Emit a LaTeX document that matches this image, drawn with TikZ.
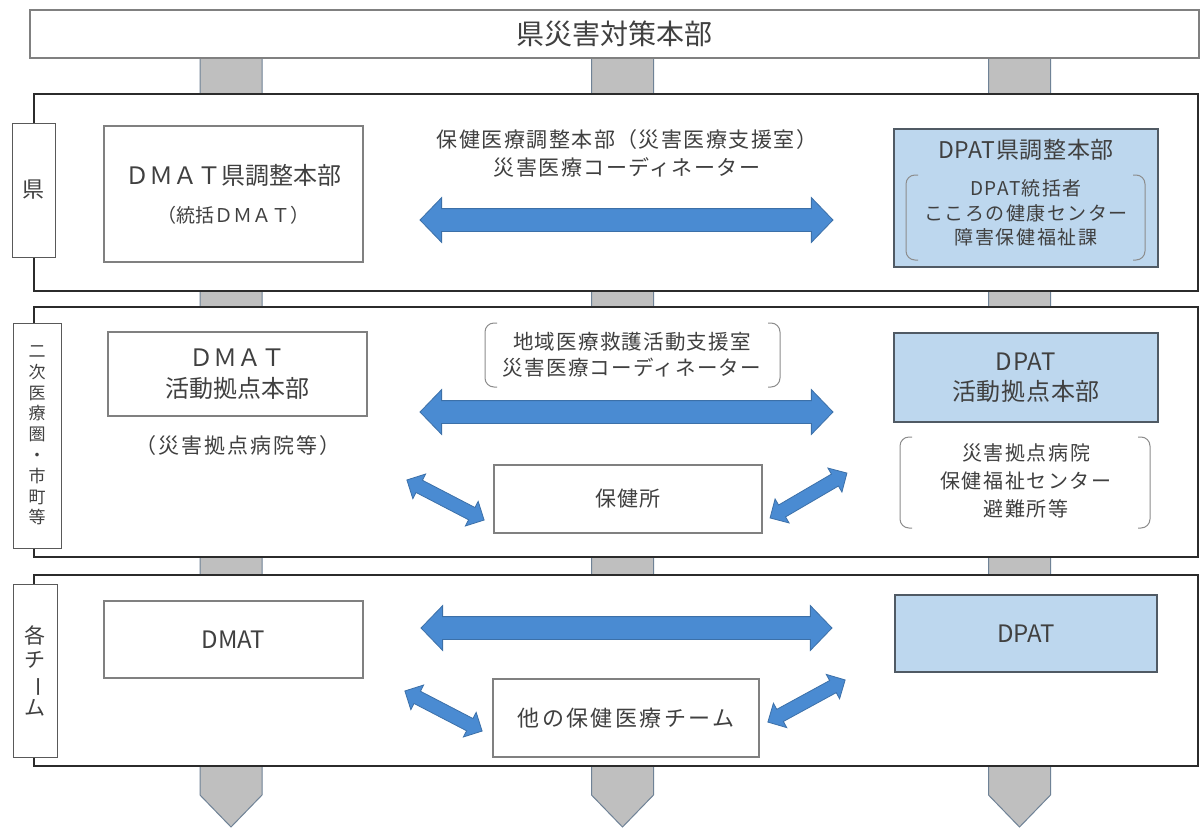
\documentclass[tikz,border=0pt]{standalone}
\usepackage{fontspec}
\setmainfont{Noto Sans CJK JP}
\usetikzlibrary{shapes.arrows,calc}
\definecolor{txt}{HTML}{404040}
\definecolor{boxline}{HTML}{808080}
\definecolor{panelline}{HTML}{2B2B2B}
\definecolor{bluebox}{HTML}{BDD7EE}
\definecolor{blueline}{HTML}{505A64}
\definecolor{arrfill}{HTML}{4A8BD2}
\definecolor{arrline}{HTML}{3C70A8}
\definecolor{barfill}{HTML}{BFBFBF}
\definecolor{barline}{HTML}{6F8296}
\definecolor{brk}{HTML}{8C8C8C}
\newcommand\fs[2]{\fontsize{#1}{#2}\selectfont}
\newcommand\fsl[3]{\fontsize{#1}{#2}\selectfont\addfontfeatures{LetterSpace=#3}}
\begin{document}
\begin{tikzpicture}[x=1pt,y=-1pt,
 every node/.style={text=txt, inner sep=0pt, outer sep=0pt},
 panel/.style={draw=panelline, line width=2pt, fill=white, rectangle},
 tab/.style={draw=black!65, line width=1pt, fill=white},
 wbox/.style={draw=boxline, line width=1.3pt, fill=white},
 bbox/.style={draw=blueline, line width=1.3pt, fill=bluebox},
 bigarrow/.style={double arrow, fill=arrfill, draw=arrline, line width=0.8pt,
   inner xsep=0pt, inner ysep=11pt,
   double arrow head extend=11pt, double arrow head indent=0pt,
   minimum width=44pt, double arrow tip angle=92},
 smallarrow/.style={double arrow, fill=arrfill, draw=arrline, line width=0.8pt,
   inner xsep=0pt, inner ysep=6.5pt,
   double arrow head extend=7pt, double arrow head indent=0pt,
   minimum width=27pt, double arrow tip angle=90},
 bar/.style={fill=barfill, draw=barline, line width=1pt},
 brack/.style={draw=brk, line width=1pt, rounded corners=9pt},
]
\useasboundingbox (0,0) rectangle (1203,828);
\fill[white] (0,0) rectangle (1203,828);

% vertical connector bars
\foreach \cx in {231,622.5,1019.5}
  \draw[bar] (\cx-31,58) -- (\cx+31,58) -- (\cx+31,795) -- (\cx,827) -- (\cx-31,795) -- cycle;

% top box
\node[draw=boxline, line width=1.3pt, fill=white, minimum width=1169pt, minimum height=48pt, font=\fs{28}{30}] (top) at (614.5,34) {県災害対策本部};

% panels
\node[panel, minimum width=1164pt, minimum height=197pt] (p1) at (616,192.5) {};
\node[panel, minimum width=1164pt, minimum height=250pt] (p2) at (616,432) {};
\node[panel, minimum width=1164pt, minimum height=191pt] (p3) at (616,670.5) {};

% tabs
\node[tab, minimum width=43pt, minimum height=134pt, font=\fs{22}{24}] (t1) at (33.5,190) {県};
\node[tab, minimum width=48pt, minimum height=225pt, align=center, font=\fs{17}{20.8}] (t2) at (37,435.5) {二\\次\\医\\療\\圏\\・\\市\\町\\等};
\node[tab, minimum width=44pt, minimum height=173pt, align=center, font=\fs{21}{24}] (t3) at (35,670.5) {各\\チ\\\rotatebox[origin=c]{-90}{ー}\\ム};

% ---- panel 1
\node[wbox, minimum width=259pt, minimum height=136pt, align=center, font=\fs{24}{38}] (dmat1) at (233.5,194) {ＤＭＡＴ県調整本部\\{\fs{19}{38}（統括ＤＭＡＴ）}};
\node[bbox, minimum width=264pt, minimum height=138pt] (dpat1) at (1026,198) {};
\node[font=\fsl{23}{25}{3}] (dpat1t) at (1026,150) {DPAT県調整本部};
\node[align=center, font=\fsl{19}{24.5}{8}] (dpat1s) at (1026,213) {DPAT統括者\\こころの健康センター\\障害保健福祉課};
\draw[brack] (918,175) -- (906,175) -- (906,260) -- (918,260);
\draw[brack] (1133,175) -- (1145,175) -- (1145,260) -- (1133,260);
\node[align=center, font=\fsl{21}{28}{7}] (mid1) at (627,153) {保健医療調整本部（災害医療支援室）\\災害医療コーディネーター};
\coordinate (a1l) at (420,220);
\coordinate (a1r) at (833,220);
\path (a1l) -- node[bigarrow, minimum height=413pt, sloped] (arr1) {} (a1r);

% ---- panel 2
\node[wbox, minimum width=259pt, minimum height=84pt, align=center, font=\fs{24}{31}] (dmat2) at (237.5,374) {ＤＭＡＴ\\活動拠点本部};
\node[font=\fsl{21}{23}{9}] (dmat2s) at (238,446) {（災害拠点病院等）};
\node[align=center, font=\fsl{20.5}{26}{6}] (mid2) at (632,355) {地域医療救護活動支援室\\災害医療コーディネーター};
\draw[brack] (497,323) -- (485,323) -- (485,387) -- (497,387);
\draw[brack] (768,323) -- (780,323) -- (780,387) -- (768,387);
\coordinate (a2l) at (420,412);
\coordinate (a2r) at (833,412);
\path (a2l) -- node[bigarrow, minimum height=413pt, sloped] (arr2) {} (a2r);
\node[wbox, minimum width=268pt, minimum height=68pt, font=\fsl{21}{23}{6}] (hok) at (628,499) {保健所};
\coordinate (d2a) at (407,480);
\coordinate (d2b) at (484,520);
\path (d2a) -- node[smallarrow, minimum height=87pt, sloped] (arr2l) {} (d2b);
\coordinate (d2c) at (770,518);
\coordinate (d2d) at (847,473);
\path (d2c) -- node[smallarrow, minimum height=89pt, sloped] (arr2r) {} (d2d);
\node[bbox, minimum width=264pt, minimum height=89pt, align=center, font=\fsl{24}{30}{3}] (dpat2) at (1026,377.5) {DPAT\\活動拠点本部};
\node[align=center, font=\fsl{20}{28}{8}] (dpat2s) at (1026,481) {災害拠点病院\\保健福祉センター\\避難所等};
\draw[brack] (912,437) -- (900,437) -- (900,528) -- (912,528);
\draw[brack] (1138,437) -- (1150,437) -- (1150,528) -- (1138,528);

% ---- panel 3
\node[wbox, minimum width=259pt, minimum height=77pt, font=\fs{24}{26}] (dmat3) at (233.5,639.5) {DMAT};
\node[bbox, minimum width=262pt, minimum height=77pt, font=\fs{24}{26}] (dpat3) at (1026,633.5) {DPAT};
\coordinate (a3l) at (421,628);
\coordinate (a3r) at (832,628);
\path (a3l) -- node[bigarrow, minimum height=411pt, sloped] (arr3) {} (a3r);
\node[wbox, minimum width=266pt, minimum height=78pt, font=\fsl{22}{24}{11}] (oth) at (626,718) {他の保健医療チーム};
\coordinate (d3a) at (405,691);
\coordinate (d3b) at (482,731);
\path (d3a) -- node[smallarrow, minimum height=87pt, sloped] (arr3l) {} (d3b);
\coordinate (d3c) at (768,722);
\coordinate (d3d) at (845,680);
\path (d3c) -- node[smallarrow, minimum height=88pt, sloped] (arr3r) {} (d3d);
\end{tikzpicture}
\end{document}
